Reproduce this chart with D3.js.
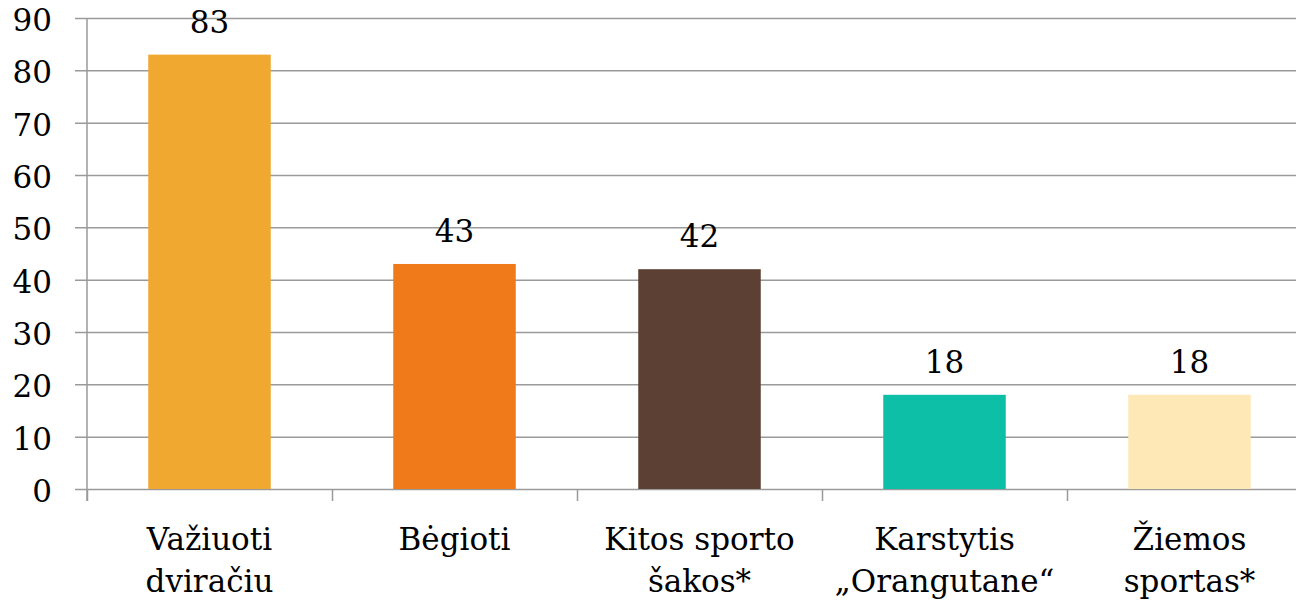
<!DOCTYPE html>
<html><head>
<meta charset="utf-8">
<script src="https://d3js.org/d3.v7.min.js"></script>
<style>
  body { margin: 0; background: #fff; }
  svg text { font-family: "DejaVu Serif", serif; fill: #000; }
</style>
</head>
<body>
<svg id="chart" width="1296" height="601"></svg>
<script>
// chart data
let categories = ["Važiuoti\ndviračiu", "Bėgioti", "Kitos sporto\nšakos*", "Karstytis\n„Orangutane“", "Žiemos\nsportas*"];
let values = [83, 43, 42, 18, 18];
let colors = ["#F0A830", "#F07A1A", "#5C4033", "#0EBFA7", "#FDE8B6"];
let yTicks = [0, 10, 20, 30, 40, 50, 60, 70, 80, 90];

let svg = d3.select("#chart");
let plotLeft = 87, plotTop = 18, plotBottom = 489;
let bandW = 245;
let fontSize = "31px";

let x = d3.scaleBand()
    .domain(categories)
    .range([plotLeft, plotLeft + bandW * categories.length])
    .paddingInner(0.5)
    .paddingOuter(0.25);

let y = d3.scaleLinear().domain([0, 90]).range([plotBottom, plotTop]);

// gridlines
svg.append("g").selectAll("line")
    .data(yTicks)
    .join("line")
    .attr("x1", plotLeft - 12)
    .attr("x2", 1296)
    .attr("y1", d => y(d) + 0.5)
    .attr("y2", d => y(d) + 0.5)
    .attr("stroke", "#9a9a9a")
    .attr("stroke-width", 1.5);

// y tick labels
svg.append("g").selectAll("text")
    .data(yTicks)
    .join("text")
    .attr("x", 52)
    .attr("y", d => y(d) + 13)
    .attr("text-anchor", "end")
    .style("font-size", fontSize)
    .text(d => d);

// y axis line
svg.append("line")
    .attr("x1", plotLeft).attr("x2", plotLeft)
    .attr("y1", plotTop).attr("y2", plotBottom + 12)
    .attr("stroke", "#9a9a9a").attr("stroke-width", 1.5);

// category ticks
svg.append("g").selectAll("line")
    .data(d3.range(categories.length + 1))
    .join("line")
    .attr("x1", i => plotLeft + i * bandW + 0.5)
    .attr("x2", i => plotLeft + i * bandW + 0.5)
    .attr("y1", plotBottom)
    .attr("y2", plotBottom + 12)
    .attr("stroke", "#9a9a9a").attr("stroke-width", 1.5);

// bars
svg.append("g").selectAll("rect")
    .data(values)
    .join("rect")
    .attr("x", (d, i) => x(categories[i]))
    .attr("width", x.bandwidth())
    .attr("y", d => y(d))
    .attr("height", d => plotBottom - y(d))
    .attr("fill", (d, i) => colors[i]);

// value labels
svg.append("g").selectAll("text")
    .data(values)
    .join("text")
    .attr("x", (d, i) => x(categories[i]) + x.bandwidth() / 2)
    .attr("y", d => y(d) - 22)
    .attr("text-anchor", "middle")
    .style("font-size", fontSize)
    .text(d => d);

// category labels
let catLabels = svg.append("g").selectAll("text")
    .data(categories)
    .join("text")
    .attr("text-anchor", "middle")
    .style("font-size", fontSize);

catLabels.each(function(c) {
  let cx = x(c) + x.bandwidth() / 2;
  d3.select(this).selectAll("tspan")
      .data(c.split("\n"))
      .join("tspan")
      .attr("x", cx)
      .attr("y", (d, i) => 550 + i * 42)
      .text(d => d);
});
</script>
</body>
</html>
